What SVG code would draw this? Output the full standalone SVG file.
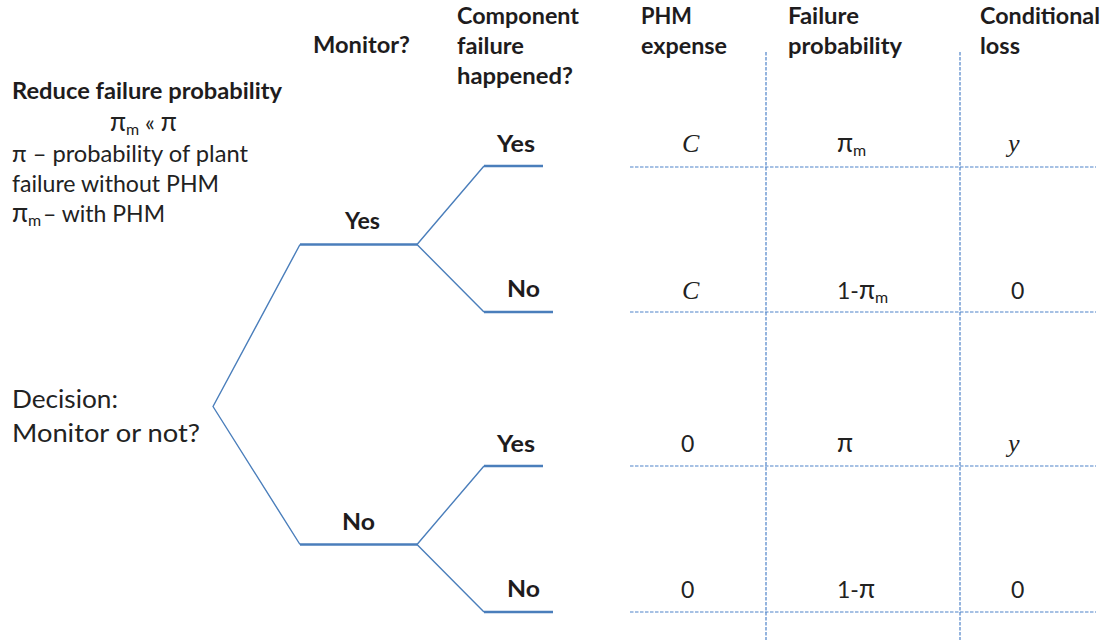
<svg xmlns="http://www.w3.org/2000/svg" width="1106" height="640" viewBox="0 0 1106 640">
  <style>
    .t { font-family: Lato, "Noto Sans", "Liberation Sans", sans-serif; font-size: 23px; fill: #222222; }
    .b { font-weight: bold; fill: #1e1c1d; }
    .sub { font-size: 16px; }
    .pi { font-size: 26px; }
    .math { font-family: "Liberation Serif", "DejaVu Serif", serif; font-style: italic; font-size: 26px; fill: #222222; }
    .branch { fill: none; stroke: #4a7ebb; stroke-width: 1.4; stroke-linejoin: round; }
    .bar { fill: none; stroke: #4a7ebb; stroke-width: 2.6; }
    .grid { fill: none; stroke: #4f83c9; stroke-width: 1.2; stroke-dasharray: 3.5 1.5; }
  </style>

  <!-- connectors: decision tree branches and table grid -->
  <g id="connectors">
    <!-- monitor / no-monitor branches -->
    <polyline class="branch" points="300,244.5 213,406.5 300,544.5"/>
    <line class="bar" x1="300" y1="244.5" x2="417" y2="244.5"/>
    <line class="bar" x1="300" y1="544.5" x2="417" y2="544.5"/>
    <!-- failure branches after "monitor" -->
    <polyline class="branch" points="484,166 417,244.5 484,312"/>
    <line class="bar" x1="484" y1="166" x2="543" y2="166"/>
    <line class="bar" x1="484" y1="312" x2="553" y2="312"/>
    <!-- failure branches after "no monitor" -->
    <polyline class="branch" points="484,466 417,544.5 484,612"/>
    <line class="bar" x1="484" y1="466" x2="543" y2="466"/>
    <line class="bar" x1="484" y1="612" x2="553" y2="612"/>
    <!-- table grid -->
    <line class="grid" x1="766" y1="52" x2="766" y2="640"/>
    <line class="grid" x1="960" y1="52" x2="960" y2="640"/>
    <line class="grid" x1="630" y1="167" x2="1096" y2="167"/>
    <line class="grid" x1="630" y1="312" x2="1096" y2="312"/>
    <line class="grid" x1="630" y1="466" x2="1096" y2="466"/>
    <line class="grid" x1="630" y1="612" x2="1096" y2="612"/>
  </g>

  <!-- column headers -->
  <g id="header-monitor">
    <text class="t b" x="313" y="53" textLength="97" lengthAdjust="spacingAndGlyphs">Monitor?</text>
  </g>
  <g id="header-component">
    <text class="t b" x="457" y="24" textLength="122" lengthAdjust="spacingAndGlyphs">Component</text>
    <text class="t b" x="457" y="54" textLength="67" lengthAdjust="spacingAndGlyphs">failure</text>
    <text class="t b" x="457" y="84" textLength="116" lengthAdjust="spacingAndGlyphs">happened?</text>
  </g>
  <g id="header-expense">
    <text class="t b" x="641" y="24" textLength="51" lengthAdjust="spacingAndGlyphs">PHM</text>
    <text class="t b" x="641" y="54" textLength="86" lengthAdjust="spacingAndGlyphs">expense</text>
  </g>
  <g id="header-probability">
    <text class="t b" x="788" y="24" textLength="71" lengthAdjust="spacingAndGlyphs">Failure</text>
    <text class="t b" x="788" y="54" textLength="114" lengthAdjust="spacingAndGlyphs">probability</text>
  </g>
  <g id="header-loss">
    <text class="t b" x="980" y="24" textLength="120" lengthAdjust="spacingAndGlyphs">Conditional</text>
    <text class="t b" x="980" y="54" textLength="40" lengthAdjust="spacingAndGlyphs">loss</text>
  </g>

  <!-- explanatory note -->
  <g id="note">
    <text class="t b" x="12" y="99" textLength="270" lengthAdjust="spacingAndGlyphs">Reduce failure probability</text>
    <text class="t" x="110" y="131"><tspan class="pi">π</tspan><tspan class="sub" dy="4">m</tspan><tspan dy="-4"> « </tspan><tspan class="pi">π</tspan></text>
    <text class="t" x="12" y="162" textLength="236" lengthAdjust="spacingAndGlyphs">π – probability of plant</text>
    <text class="t" x="12" y="192" textLength="207" lengthAdjust="spacingAndGlyphs">failure without PHM</text>
    <text class="t" x="12" y="222"><tspan class="pi">π</tspan><tspan class="sub" dy="4">m</tspan></text>
    <text class="t" x="43" y="222" textLength="122" lengthAdjust="spacingAndGlyphs">– with PHM</text>
  </g>

  <!-- decision root -->
  <g id="decision">
    <text class="t" style="font-size:25px" x="12" y="408" textLength="106" lengthAdjust="spacingAndGlyphs">Decision:</text>
    <text class="t" style="font-size:25px" x="12" y="442" textLength="188" lengthAdjust="spacingAndGlyphs">Monitor or not?</text>
  </g>

  <!-- branch labels -->
  <g id="monitor-yes"><text class="t b" x="345" y="229" textLength="35" lengthAdjust="spacingAndGlyphs">Yes</text></g>
  <g id="monitor-no"><text class="t b" x="342" y="530" textLength="33" lengthAdjust="spacingAndGlyphs">No</text></g>
  <g id="monitor-yes-failure-yes"><text class="t b" x="497" y="152" textLength="38" lengthAdjust="spacingAndGlyphs">Yes</text></g>
  <g id="monitor-yes-failure-no"><text class="t b" x="507" y="297" textLength="33" lengthAdjust="spacingAndGlyphs">No</text></g>
  <g id="monitor-no-failure-yes"><text class="t b" x="497" y="452" textLength="38" lengthAdjust="spacingAndGlyphs">Yes</text></g>
  <g id="monitor-no-failure-no"><text class="t b" x="507" y="597" textLength="33" lengthAdjust="spacingAndGlyphs">No</text></g>

  <!-- outcome rows: expense, probability, loss -->
  <g id="row-1">
    <text class="math" x="682" y="152">C</text>
    <text class="t" x="837" y="152"><tspan class="pi">π</tspan><tspan class="sub" dy="4">m</tspan></text>
    <text class="math" x="1008" y="152">y</text>
  </g>
  <g id="row-2">
    <text class="math" x="682" y="299">C</text>
    <text class="t" x="837" y="299">1-<tspan class="pi">π</tspan><tspan class="sub" dy="4">m</tspan></text>
    <text class="t" x="1011" y="299">0</text>
  </g>
  <g id="row-3">
    <text class="t" x="681" y="452">0</text>
    <text class="t" x="837" y="452"><tspan class="pi">π</tspan></text>
    <text class="math" x="1008" y="452">y</text>
  </g>
  <g id="row-4">
    <text class="t" x="681" y="598">0</text>
    <text class="t" x="837" y="598">1-<tspan class="pi">π</tspan></text>
    <text class="t" x="1011" y="598">0</text>
  </g>
</svg>
